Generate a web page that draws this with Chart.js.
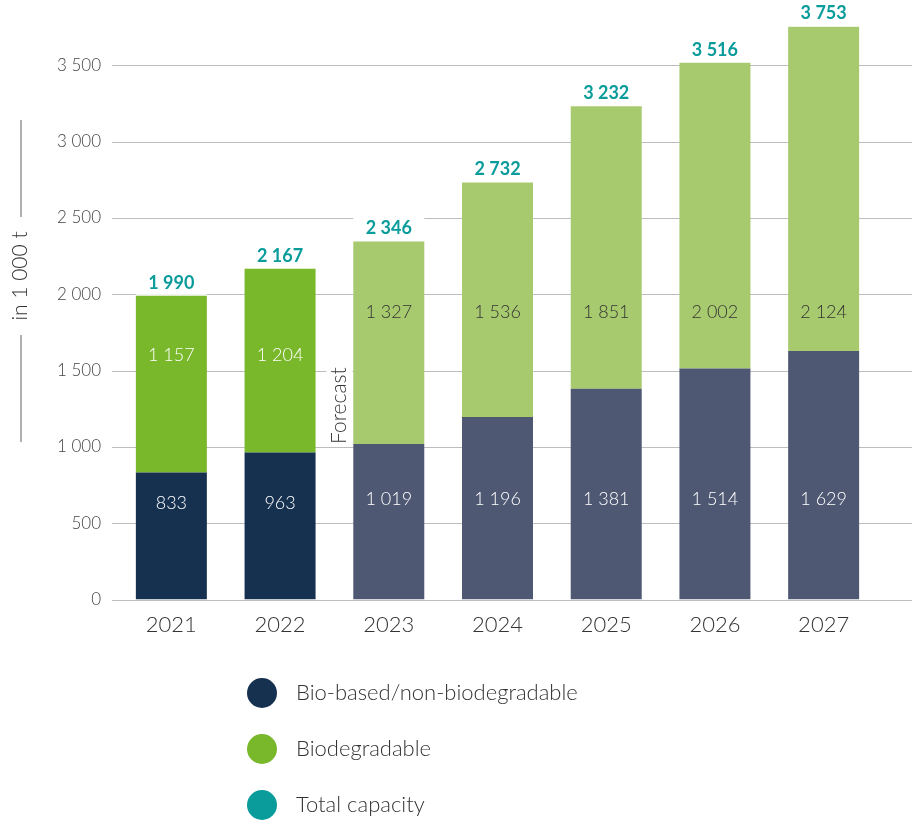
<!DOCTYPE html>
<html><head><meta charset="utf-8">
<script src="https://cdn.jsdelivr.net/npm/chart.js@4/dist/chart.umd.min.js"></script>
<style>html,body{margin:0;padding:0;background:#fff;} #wrap{width:912px;height:821px;position:relative;}</style>
</head><body><div id="wrap"><canvas id="c" width="912" height="821"></canvas></div>
<script>
const years = ['2021','2022','2023','2024','2025','2026','2027'];
const bioBased = [833,963,1019,1196,1381,1514,1629];
const biodegradable = [1157,1204,1327,1536,1851,2002,2124];
const totalCapacity = [1990,2167,2346,2732,3232,3516,3753];
const yTicks = [0,500,1000,1500,2000,2500,3000,3500];
const firstForecastIndex = 2;
const seriesNames = ['Bio-based/non-biodegradable','Biodegradable','Total capacity'];
const axisTitle = 'in 1 000 t';
const forecastText = 'Forecast';

const NAVY='#16304f', SLATE='#4e5873', GREEN='#79b72b', LIGHTGREEN='#a8ca6e', TEAL='#0a9b9b';
const TEXT='#333333', GRID='#bdbdbd';
const FONT='Lato, "Open Sans", sans-serif';
const fmt = v => String(v).replace(/\B(?=(\d{3})+(?!\d))/g, ' ');
const isActual = i => i < firstForecastIndex;

const overlay = {
  id:'overlay',
  beforeDatasetsDraw(chart){
    const c=chart.ctx, y=chart.scales.y;
    c.save(); c.strokeStyle=GRID; c.lineWidth=1;
    yTicks.forEach(v=>{const py=Math.round(y.getPixelForValue(v))+0.5; c.beginPath(); c.moveTo(112,py); c.lineTo(chart.width,py); c.stroke();});
    c.restore();
  },
  afterDatasetsDraw(chart){
    const c=chart.ctx, y=chart.scales.y, x=chart.scales.x;
    const m0=chart.getDatasetMeta(0), m1=chart.getDatasetMeta(1), m2=chart.getDatasetMeta(2);
    c.save();
    c.textAlign='center'; c.textBaseline='middle';
    c.font='300 18px '+FONT;
    years.forEach((yr,i)=>{
      const b0=m0.data[i], b1=m1.data[i];
      c.fillStyle='#ffffff';
      c.fillText(fmt(bioBased[i]), b0.x, y.getPixelForValue(isActual(i)?630:655));
      c.fillStyle=isActual(i)?'#ffffff':'#333333';
      c.fillText(fmt(biodegradable[i]), b1.x, y.getPixelForValue(isActual(i)?1600:1880));
    });
    c.font='bold 18px '+FONT;
    years.forEach((yr,i)=>{
      const b1=m1.data[i], p=m2.data[i];
      const w=b1.width;
      c.fillStyle='#ffffff';
      c.fillRect(b1.x-w/2, p.y-24, w, 23);
      c.fillStyle=TEAL;
      c.fillText(fmt(totalCapacity[i]), b1.x, p.y-13);
    });
    const fx=(x.getPixelForValue(firstForecastIndex-1)+x.getPixelForValue(firstForecastIndex))/2+5;
    const fy=y.getPixelForValue(1000)-3;
    c.font='300 21px '+FONT;
    const tw=c.measureText(forecastText).width;
    c.fillStyle='#ffffff';
    c.fillRect(fx-13, fy-tw-2, 26, tw+4);
    c.translate(fx,fy); c.rotate(-Math.PI/2);
    c.textAlign='left'; c.fillStyle=TEXT;
    c.fillText(forecastText,0,0);
    c.restore();
  },
  afterDraw(chart){
    const c=chart.ctx;
    c.save();
    c.strokeStyle='#b0b0b0'; c.lineWidth=2;
    c.beginPath(); c.moveTo(21,120); c.lineTo(21,217); c.moveTo(21,335); c.lineTo(21,442); c.stroke();
    c.translate(20,276); c.rotate(-Math.PI/2);
    c.font='300 21px '+FONT; c.fillStyle=TEXT; c.textAlign='center'; c.textBaseline='middle';
    c.fillText(axisTitle,0,0);
    c.restore();
    c.save();
    const cols=[NAVY,GREEN,TEAL];
    chart.data.datasets.forEach((ds,i)=>{
      const cy=693+i*56;
      c.fillStyle=cols[i]; c.beginPath(); c.arc(262,cy,15,0,Math.PI*2); c.fill();
      c.fillStyle=TEXT; c.font='300 22px '+FONT; c.textAlign='left'; c.textBaseline='middle';
      c.fillText(ds.label,296,cy);
    });
    c.restore();
  }
};

new Chart(document.getElementById('c'),{
  type:'bar',
  data:{labels:years,datasets:[
    {label:seriesNames[0],data:bioBased,backgroundColor:years.map((_,i)=>isActual(i)?NAVY:SLATE),stack:'s',barPercentage:0.653,categoryPercentage:1},
    {label:seriesNames[1],data:biodegradable,backgroundColor:years.map((_,i)=>isActual(i)?GREEN:LIGHTGREEN),stack:'s',barPercentage:0.653,categoryPercentage:1},
    {type:'line',label:seriesNames[2],data:totalCapacity,stack:'t',showLine:false,pointRadius:0,borderColor:TEAL,backgroundColor:TEAL}
  ]},
  options:{
    responsive:false, animation:false, devicePixelRatio:1,
    layout:{padding:{left:0,right:34,top:19,bottom:171}},
    plugins:{legend:{display:false},tooltip:{enabled:false}},
    scales:{
      x:{stacked:true,grid:{display:false,drawTicks:false},border:{display:false},
         ticks:{padding:12,color:TEXT,font:{family:FONT,size:22,weight:'300'}}},
      y:{stacked:true,min:0,max:3756,grid:{display:false,drawTicks:false},border:{display:false},
         afterFit(s){s.width=117;},
         afterBuildTicks(s){s.ticks=yTicks.map(v=>({value:v}));},
         ticks:{padding:16,color:'#444',font:{family:FONT,size:17,weight:'300'},callback:v=>fmt(v)}}
    }
  },
  plugins:[overlay]
});
</script></body></html>
